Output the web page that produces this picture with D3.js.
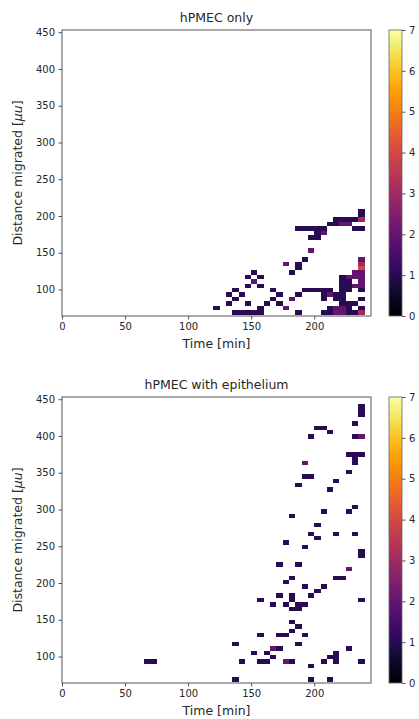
<!DOCTYPE html>
<html>
<head>
<meta charset="utf-8">
<script src="https://d3js.org/d3.v7.min.js"></script>
<style>
body { margin: 0; background: #fff; }
text { font-family: "DejaVu Sans", sans-serif; fill: #262626; }
</style>
</head>
<body>
<div id="graph"></div>
<script>
var titles = ["hPMEC only", "hPMEC with epithelium"]
var xLabel = "Time [min]"
var yLabel = "Distance migrated "
var xTicks = [0, 50, 100, 150, 200]
var yTicks = [100, 150, 200, 250, 300, 350, 400, 450]
var colorTicks = [0, 1, 2, 3, 4, 5, 6, 7]
var timeRange = [0, 245]
var distRange = [64, 453]
var countRange = [0, 7]
var timeStep = 5
var distStep = 6

// [time bin start (min), distance bin start, count]
var onlyCells = [
    [235,204,1],[235,198,1],[235,192,3],
    [215,192,1],[220,192,1],[225,192,1],[230,192,1],
    [210,186,1],[215,186,1],[220,186,2],[225,186,2],
    [185,180,1],[190,180,1],[195,180,1],[200,180,1],[205,180,1],[230,180,1],[235,180,1],
    [200,174,1],[205,174,2],
    [195,168,1],[200,168,1],
    [195,150,2],
    [190,138,1],[185,132,1],[175,132,2],[185,126,1],[180,120,1],[150,120,1],
    [235,138,2],[235,132,3],[235,126,4],
    [230,120,2],[235,120,2],
    [220,114,1],[225,114,2],[230,114,2],[235,114,2],
    [220,108,1],[225,108,1],[235,108,2],
    [220,102,1],[225,102,1],[230,102,2],[235,102,2],
    [220,96,1],[225,96,1],[235,96,1],
    [190,96,1],[195,96,1],[200,96,1],[205,96,1],[210,96,1],[210,90,2],
    [145,114,1],[155,114,1],
    [150,108,2],
    [145,102,1],[155,102,1],
    [135,96,1],[165,96,1],
    [130,90,1],[140,90,1],[170,90,1],[185,90,1],
    [135,84,1],[165,84,1],[180,84,2],
    [130,78,1],[145,78,1],[160,78,1],[170,78,1],
    [120,72,1],[155,72,1],[175,72,2],
    [135,66,1],[140,66,1],[145,66,1],[150,66,1],[155,66,1],[185,66,1],
    [205,90,1],[215,90,1],[220,90,1],
    [205,84,1],[215,84,1],[220,84,1],[235,84,1],
    [220,78,1],[225,78,1],[230,78,1],
    [210,72,1],[215,72,2],[220,72,2],[225,72,1],[235,72,1],
    [205,66,1],[210,66,1],[215,66,2],[220,66,2],[225,66,1],[230,66,1],[235,66,3]
]

var epiCells = [
    [235,438,1],[235,432,1],[235,426,1],
    [230,414,1],
    [200,408,1],[205,408,1],
    [210,402,1],
    [195,396,1],[230,396,1],[235,396,2],
    [225,372,1],[230,372,1],[235,372,1],[230,366,1],[230,360,1],
    [190,360,2],
    [225,348,1],
    [190,342,1],[195,342,1],
    [215,336,1],
    [185,330,1],
    [210,324,1],
    [225,294,1],[230,300,1],
    [205,294,1],
    [180,288,1],
    [200,276,1],
    [195,264,1],[200,258,1],[215,264,1],[230,264,1],
    [175,252,1],
    [190,246,1],
    [235,240,1],[235,234,1],
    [170,222,1],[185,222,1],
    [225,216,2],
    [215,204,1],[220,204,1],
    [180,204,1],[175,198,1],
    [190,192,1],
    [205,192,1],[200,186,1],[195,180,1],
    [235,174,1],[155,174,1],
    [170,180,1],[180,180,1],[180,174,1],
    [165,168,1],[175,168,1],[185,168,1],[190,168,1],
    [180,162,1],[185,162,1],
    [180,144,1],[185,138,1],[180,132,1],
    [155,126,1],[170,126,1],[175,126,1],[190,126,1],
    [135,114,1],[185,114,1],
    [165,108,2],[170,108,1],[225,108,1],
    [150,102,1],[160,102,1],[215,102,1],
    [165,96,1],[210,96,1],[215,96,1],
    [65,90,1],[70,90,1],[140,90,1],[155,90,1],[160,90,1],[175,90,2],[180,90,1],[205,90,1],[215,90,1],[235,90,1],
    [195,84,1],
    [135,66,1],[195,66,1],[210,66,1]
]

var width = 419, height = 719
var left = 62, right = 371
var cbarX = 389, cbarW = 13
var panels = [
    {top: 30, bottom: 316, cells: onlyCells, title: titles[0]},
    {top: 397, bottom: 683, cells: epiCells, title: titles[1]}
]

var svg = d3.select("#graph").append("svg")
    .attr("width", width)
    .attr("height", height)

var color = d3.scaleSequential(d3.interpolateInferno).domain(countRange)

var grad = svg.append("defs").append("linearGradient")
    .attr("id", "cbar")
    .attr("x1", 0).attr("y1", 1).attr("x2", 0).attr("y2", 0)
d3.range(0, 1.0001, 0.05).forEach(function(t) {
    grad.append("stop").attr("offset", t).attr("stop-color", d3.interpolateInferno(t))
})

panels.forEach(drawPanel)

function styleAxis(g) {
    g.select(".domain").remove()
    g.selectAll(".tick line").attr("stroke", "#444").attr("stroke-width", 0.9)
    g.selectAll(".tick text").style("font-size", "10px").style("font-family", "DejaVu Sans")
}

function drawPanel(p) {
    var x = d3.scaleLinear().domain(timeRange).range([left, right])
    var y = d3.scaleLinear().domain(distRange).range([p.bottom, p.top])
    var g = svg.append("g")

    g.append("g")
        .selectAll("rect")
        .data(p.cells)
        .enter()
        .append("rect")
        .attr("shape-rendering", "crispEdges")
        .attr("x", function(d) { return x(d[0]) })
        .attr("width", function(d) { return x(d[0] + timeStep) - x(d[0]) })
        .attr("y", function(d) { return y(d[1] + distStep) })
        .attr("height", function(d) { return y(d[1]) - y(d[1] + distStep) })
        .attr("fill", function(d) { return color(d[2]) })

    g.append("rect")
        .attr("x", left).attr("y", p.top)
        .attr("width", right - left).attr("height", p.bottom - p.top)
        .attr("fill", "none").attr("stroke", "#555").attr("stroke-width", 1)

    g.append("g")
        .attr("transform", "translate(0," + p.bottom + ")")
        .call(d3.axisBottom(x).tickValues(xTicks).tickSize(3.5).tickPadding(3))
        .call(styleAxis)

    g.append("g")
        .attr("transform", "translate(" + left + ",0)")
        .call(d3.axisLeft(y).tickValues(yTicks).tickSize(3.5).tickPadding(3.5))
        .call(styleAxis)

    g.append("text")
        .attr("x", (left + right) / 2).attr("y", p.top - 8)
        .attr("text-anchor", "middle")
        .style("font-size", "12.5px")
        .text(p.title)

    g.append("text")
        .attr("x", (left + right) / 2).attr("y", p.bottom + 31.5)
        .attr("text-anchor", "middle")
        .style("font-size", "12.5px")
        .text(xLabel)

    var yl = g.append("text")
        .attr("transform", "translate(22," + (p.top + p.bottom) / 2 + ") rotate(-90)")
        .attr("text-anchor", "middle")
        .style("font-size", "12.5px")
    yl.append("tspan").text(yLabel + "[")
    yl.append("tspan").style("font-style", "italic").text("\u03bcu")
    yl.append("tspan").text("]")

    // colorbar
    var c = d3.scaleLinear().domain(countRange).range([p.bottom, p.top])
    g.append("rect")
        .attr("x", cbarX).attr("y", p.top)
        .attr("width", cbarW).attr("height", p.bottom - p.top)
        .attr("fill", "url(#cbar)")
        .attr("stroke", "#666").attr("stroke-width", 0.8)
    g.append("g")
        .attr("transform", "translate(" + (cbarX + cbarW) + ",0)")
        .call(d3.axisRight(c).tickValues(colorTicks).tickFormat(d3.format("d")).tickSize(3.5).tickPadding(3.5))
        .call(styleAxis)
}
</script>
</body>
</html>
